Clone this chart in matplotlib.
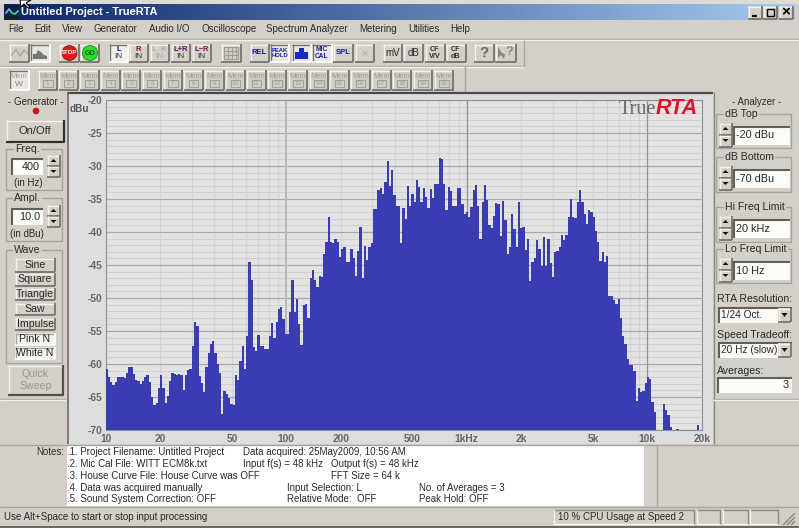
import numpy as np
import matplotlib
matplotlib.use("Agg")
import matplotlib.pyplot as plt
from matplotlib.patches import Rectangle, Polygon, Circle
from matplotlib.ticker import NullFormatter

plt.rcParams['font.family'] = ['Liberation Sans', 'DejaVu Sans']
plt.rcParams['axes.unicode_minus'] = False

# ---------- data (dBu per 1/24-octave band) ----------
low_band_db = [-60.7,-62,-62.7,-63.2,-62.7,-62,-62,-62,-62.1,-61.4,-60.5,-60.5,-61.5,-62.4,-62.6,-63,-62.5,-62,-61.7,-62.7,
 -65,-66.2,-65.9,-63.7,-61.6,-63.7,-65.9,-64.8,-62.6,-61.4,-61.5,-61.6,-61.5,-61.6,-64,-61.7,-60.9,-60.8,-57.3,-53.6,
 -54.2,-61.8,-62.9,-64.2,-60.5,-58.4,-56.9,-56.5,-58.4,-60,-61.3,-67.6,-64.1,-64.5,-65.2,-66,-66.2,-61.6,-62.4,-59.5,
 -57.3,-60.7,-55.7,-44.5,-47.2,-57.4,-58.1,-55.6,-57.3,-57.2,-57.7,-57.7,-55.8,-53.8,-56.1,-53.7,-51.7,-51.3,-53.2,-55.5,
 -55.5,-52.1,-47.3,-52.1,-50.2,-53.9,-57.1,-51,-50.9,-53,-46.9,-45.7,-47.2,-48.4,-46.7,-46.8,-43.3,-41.5,-37.7,-41.5,
 -41.6,-41,-41.5,-43.8,-42.5,-42.2,-44.6,-44.6,-42.6,-44,-46.6,-42.9,-39.2,-46.9,-42.1,-44.2,-42.3,-41.6,-36.5,-36.5,
 -33.6,-33.4,-34.2,-32.4,-29.2,-33,-30.6,-34.4,-36,-36]
high_band_db = [-41.6,-36.3,-38,-33,-36,-34.2,-35.4,-32.1,-33.2,-35.4,-33.3,-34.7,-36.4,-33.5,-34.9,-32.8,-32.7,-28.8,-28.9,-32.7,
 -36.6,-33.2,-33.8,-36,-36,-33.3,-33.3,-35.8,-37.3,-36.9,-37.7,-36.2,-33.7,-32.9,-36,-41.1,-35.4,-32.9,-35.2,-39,
 -39.4,-37.6,-35.6,-35.7,-40.6,-35.3,-38.2,-43.4,-42.2,-37.2,-39.6,-42.2,-35.5,-39.4,-39.2,-42.8,-41,-47.4,-44.6,-44,
 -41.2,-42.5,-45.1,-40.8,-45.1,-41,-44.7,-46.8,-43,-42.9,-42.2,-40.4,-41.2,-40.4,-37.7,-35,-37.7,-37.9,-35.4,-33.6,
 -35.5,-37.3,-38.8,-36.6,-37,-37.7,-39.9,-41.5,-44.4,-43,-44.5,-43.6,-49.7,-49.7,-50.3,-50.9,-50.2,-53,-55.8,-57,
 -59.2,-60.2,-60.2,-61,-65.6,-63.7,-64.2,-64.1,-62.9,-62,-62.3,-65.7,-67.2,-70,-70,-70,-66.1,-67,-67.7,-69.6,
 -70,-70,-69.9,-70,-70,-70,-70,-70,-70,-70,-70,-69.3,-70]
tick_freqs = [10,20,50,100,200,500,1000,2000,5000,10000,20000]
tick_names = ['10','20','50','100','200','500','1kHz','2k','5k','10k','20k']
db_ticks = [-20,-25,-30,-35,-40,-45,-50,-55,-60,-65,-70]
menu_names = ['File','Edit','View','Generator','Audio I/O','Oscilloscope','Spectrum Analyzer','Metering','Utilities','Help']
wave_names = ['Sine','Square','Triangle','Saw','Impulse','Pink N','White N']

W, H = 799, 528
fig = plt.figure(figsize=(W/100, H/100), dpi=100, facecolor='#d4d0c8')
ui = fig.add_axes([0, 0, 1, 1], zorder=0)
ui.set_xlim(0, W); ui.set_ylim(H, 0); ui.axis('off')

FACE = '#d4d0c8'
FS = 7.0
DARK = '#76746d'

def rect(x0, y0, x1, y1, fc=FACE, ec='none', lw=0, z=1):
    ui.add_patch(Rectangle((x0, y0), x1-x0, y1-y0, facecolor=fc, edgecolor=ec, linewidth=lw, zorder=z))

def line(xs, ys, c='#808080', lw=1, z=2):
    ui.plot(xs, ys, color=c, lw=lw, zorder=z, solid_capstyle='butt')

def txt(x, y, s, ha='left', c='#2a2a2a', fs=FS, z=5, **kw):
    ui.text(x, y, s, ha=ha, va='center', color=c, fontsize=fs, zorder=z, **kw)

def button(x0, y0, x1, y1, fc=FACE, pressed=False, z=2, dark=DARK):
    rect(x0, y0, x1, y1, fc=fc, z=z)
    a, b = (dark, '#ffffff') if pressed else ('#f4f3ef', dark)
    line([x0, x1], [y0+.5, y0+.5], a, z=z+.1); line([x0+.5, x0+.5], [y0, y1], a, z=z+.1)
    line([x0, x1], [y1-.5, y1-.5], b, 1.3, z=z+.1); line([x1-.5, x1-.5], [y0, y1], b, 1.3, z=z+.1)

def group(x0, y0, x1, y1, label=None, lx=None):
    line([x0, x1, x1, x0, x0], [y0, y0, y1, y1, y0], '#a6a49c', 1)
    if label:
        ui.text(lx, y0, label, ha='left', va='center', fontsize=FS+.6, color='#2a2a2a', zorder=5,
                bbox=dict(fc=FACE, ec='none', pad=1))

def edit(x0, y0, x1, y1, s, ha='left', fs=FS+.8):
    rect(x0, y0, x1, y1, fc='#fbfbf8', z=2)
    line([x0, x1], [y0+.7, y0+.7], '#606058', 1.5); line([x0+.7, x0+.7], [y0, y1], '#606058', 1.5)
    if ha == 'left':
        txt(x0+3, (y0+y1)/2, s, fs=fs)
    else:
        txt(x1-3, (y0+y1)/2, s, ha='right', fs=fs)

def spinner(x0, y0, x1, y1):
    m = (y0+y1)/2
    button(x0, y0, x1, m); button(x0, m, x1, y1)
    c = (x0+x1)/2
    ui.add_patch(Polygon([[c-3, y0+7], [c+3, y0+7], [c, y0+4]], fc='#111111', zorder=4))
    ui.add_patch(Polygon([[c-3, m+4], [c+3, m+4], [c, m+7]], fc='#111111', zorder=4))

# ---------- window frame ----------
rect(0, 0, W, 4, fc='#dedbd3')
grad = np.linspace(0, 1, 256)[None, :, None]
c0, c1 = np.array([10, 36, 106])/255, np.array([166, 202, 240])/255
ui.imshow(c0 + (c1-c0)*grad, extent=(4, 795, 20, 4), aspect='auto', zorder=1)
ui.set_xlim(0, W); ui.set_ylim(H, 0)
rect(5, 5, 19, 19, fc='#102030', z=2)
ui.plot([6, 9, 12, 15, 18], [13, 9, 13, 14, 11], color='#40d0d0', lw=1.2, zorder=3)
ui.add_patch(Polygon([[20, 0], [31, 0], [26, 3], [30, 7], [28, 8], [24, 4], [21, 7]], fc='white', ec='black', lw=.8, zorder=8))
txt(21, 12, 'Untitled Project - TrueRTA', c='white', fs=7.9, fontweight='bold')
button(748, 6, 762, 19); button(763, 6, 777, 19); button(779, 6, 793, 19)
line([752, 757], [15.5, 15.5], 'black', 1.6, z=4)
ui.add_patch(Rectangle((767, 9), 7, 7, fc='none', ec='black', lw=1, zorder=4))
txt(786, 12.5, '\u00d7', ha='center', c='black', fs=11, fontweight='bold')

# ---------- menu ----------
for mx, name in zip([8, 34, 62, 93, 149, 202, 266, 359, 408, 450], menu_names):
    txt(mx, 29, name, fs=FS)
line([0, W], [38.5, 38.5], '#a8a59c'); line([0, W], [39.5, 39.5], '#f2f1ec')

# ---------- toolbars ----------
line([0, 523], [65.5, 65.5], '#a8a59c'); line([0, 523], [66.5, 66.5], '#f2f1ec')
line([523.5, 523.5], [40, 66], '#a8a59c'); line([464.5, 464.5], [66, 92], '#a8a59c')
button(9, 44, 29, 62); button(30, 44, 50, 62, fc='#e6e4de', pressed=True)
ui.plot([12, 16, 20, 24, 27], [55, 49, 56, 50, 53], color='#a8a69e', lw=1, zorder=4)
ui.add_patch(Polygon([[33, 59], [33, 54], [36, 54], [38, 50], [41, 52], [44, 55], [47, 56], [47, 59]], fc='#777777', zorder=4))
button(59, 44, 79, 62); button(80, 44, 99, 62)
ui.add_patch(Circle((69.5, 53), 7.5, fc='#e01818', ec='#801010', lw=.5, zorder=4))
txt(69.5, 53, 'STOP', ha='center', c='white', fs=4.4, fontweight='bold')
ui.add_patch(Circle((90, 53), 7.5, fc='#22e02a', ec='#108010', lw=.5, zorder=4))
txt(90, 53.5, 'GO', ha='center', c='#105010', fs=5, fontweight='bold')
for x0, top, col, fc, pr in [(109, 'L', '#101080', '#f0efea', True), (129, 'R', '#901010', FACE, False), (150, 'L  R', '#b0aea8', FACE, False),
                             (171, 'L+R', '#501070', FACE, False), (192, 'L\u2212R', '#801050', FACE, False)]:
    button(x0, 44, x0+19, 62, fc=fc, pressed=pr)
    txt(x0+9.5, 49.5, top, ha='center', c=col, fs=5.4, fontweight='bold')
    txt(x0+9.5, 57, 'IN', ha='center', c='#a8a69e' if col == '#b0aea8' else '#333333', fs=6)
button(221, 44, 241, 62)
for gx in [224, 228, 232, 236, 238]:
    line([gx, gx], [47, 59], '#a09e96', .8, z=4)
for gy in [47, 51, 55, 59]:
    line([224, 238], [gy, gy], '#a09e96', .8, z=4)
for x0, x1, s, fs, fc, pr in [(250, 269, 'REL', 5.6, FACE, False), (270, 289, 'PEAK\nHOLD', 4.2, '#e8e7e2', True),
                          (312, 332, 'MIC\nCAL', 4.8, '#e8e7e2', True), (333, 353, 'SPL', 5.6, FACE, False)]:
    button(x0, 44, x1, 62, fc=fc, pressed=pr)
    ui.text((x0+x1)/2, 53, s, ha='center', va='center', color='#1a1aa8', fontsize=fs, fontweight='bold', zorder=5, linespacing=1.0)
button(292, 44, 311, 62, fc='#e8e7e2', pressed=True)
ui.add_patch(Polygon([[295, 59], [295, 52], [299, 52], [299, 48], [304, 48], [304, 52], [308, 52], [308, 59]], fc='#1a2ac0', zorder=4))
button(355, 44, 374, 62)
txt(364.5, 53, '\u00d7', ha='center', c='#b0aea8', fs=8)
for x0, x1, s in [(383, 402, 'mV'), (403, 423, 'dB')]:
    button(x0, 44, x1, 62); txt((x0+x1)/2, 53, s, ha='center', fs=7)
for x0, s in [(425, 'CF\nV/V'), (446, 'CF\ndB')]:
    button(x0, 44, x0+20, 62)
    ui.text(x0+10, 53, s, ha='center', va='center', fontsize=5.2, color='#333333', zorder=5, linespacing=.95, fontweight='bold')
button(474, 44, 494, 62); button(495, 44, 516, 62)
txt(484, 53, '?', ha='center', c='#706e68', fs=11, fontweight='bold')
txt(509, 52, '?', ha='center', c='#8a8880', fs=9, fontweight='bold')
ui.add_patch(Polygon([[498, 47], [498, 58], [501, 55], [504, 59], [505, 54], [502, 53]], fc='#8a8880', zorder=4))

button(9, 70, 29, 90, fc='#e8e7e2', pressed=True)
txt(19, 76, 'Mem', ha='center', c='#a09e96', fs=5.4); txt(19, 84, 'W', ha='center', c='#807e76', fs=6)
for i in range(1, 21):
    x0 = 38 + 20.85*(i-1)
    button(x0, 70, x0+19.5, 90, fc='#d0cdc4')
    txt(x0+9.7, 76, 'Mem', ha='center', c='#a09e96', fs=5.4)
    ui.add_patch(Rectangle((x0+5, 80), 9.5, 7, fc='none', ec='#a09e96', lw=.7, zorder=4))
    txt(x0+9.7, 83.5, str(i), ha='center', c='#a09e96', fs=4.6)

# ---------- left generator panel ----------
txt(36, 102, '- Generator -', ha='center', fs=FS)
ui.add_patch(Circle((36, 111), 3, fc='#e01010', ec='#801010', lw=.4, zorder=4))
button(6, 120, 64, 142, pressed=False)
line([6, 64, 64], [141.5, 141.5, 120], '#303030', 1.6, z=3)
txt(35, 131, 'On/Off', ha='center', fs=FS+1)
group(6, 149, 62, 190, 'Freq.', 15)
edit(11, 158, 43, 175, '400', ha='right'); spinner(47, 155, 60, 177)
txt(28, 183, '(in Hz)', ha='center', fs=FS)
group(6, 198, 62, 241, 'Ampl.', 14)
edit(11, 208, 43, 225, '10.0', ha='right'); spinner(47, 205, 60, 227)
txt(27, 234, '(in dBu)', ha='center', fs=FS)
group(6, 250, 62, 363, 'Wave', 14)
for (y0, y1), name in zip([(258, 272), (273, 286), (288, 300), (303, 315), (318, 330), (333, 345), (347, 359)], wave_names):
    white = name in ('Pink N', 'White N')
    button(15, y0, 55, y1, fc='#f4f3ef' if white else FACE, pressed=white, dark='#a6a49c' if white else DARK)
    txt(35, (y0+y1)/2, name, ha='center', fs=FS+.6)
button(8, 365, 63, 395)
line([8, 63, 63], [394.5, 394.5, 365], '#505050', 1.6, z=3)
txt(35.5, 374, 'Quick', ha='center', c='#9a9890', fs=FS+.6); txt(35.5, 386, 'Sweep', ha='center', c='#9a9890', fs=FS+.6)
line([0, 66], [398.5, 398.5], '#a8a59c'); line([0, 66], [399.5, 399.5], '#f2f1ec')

# ---------- chart panel ----------
rect(67, 92, 713, 444, fc='#dddddb', z=1)
line([67, 713], [92.5, 92.5], '#4a4a4a', 1.6); line([67.5, 67.5], [92, 444], '#6a6a6a', 1.2)
line([713.5, 713.5], [92, 444], '#8a8880', 1)
txt(70, 109, 'dBu', c='#555555', fs=7.2, fontweight='bold')

# ---------- right analyzer panel ----------
txt(757, 102, '- Analyzer -', ha='center', fs=FS)
for y0, y1, label, lx, val in [(114, 148, 'dB Top', 725, '-20 dBu'), (157, 192, 'dB Bottom', 725, '-70 dBu'),
                               (207, 242, 'Hi Freq Limit', 725, '20 kHz'), (249, 283, 'Lo Freq Limit', 725, '10 Hz')]:
    group(716, y0, 791, y1, label, lx)
    spinner(719, y0+9, 732, y0+33)
    edit(733, y0+12, 790, y0+31, val)
txt(717, 299, 'RTA Resolution:', fs=FS+.6)
edit(718, 307, 792, 323, '1/24 Oct.', fs=FS+.3)
txt(717, 335, 'Speed Tradeoff:', fs=FS+.6)
edit(718, 342, 792, 358, '20 Hz (slow)', fs=FS+.3)
for y0 in (307, 342):
    button(778, y0+1, 791, y0+15)
    ui.add_patch(Polygon([[781.5, y0+6], [787.5, y0+6], [784.5, y0+10]], fc='#111111', zorder=4))
txt(717, 371, 'Averages:', fs=FS+.6)
edit(717, 377, 792, 393, '3', ha='right')
line([713, W], [398.5, 398.5], '#a8a59c'); line([713, W], [399.5, 399.5], '#f2f1ec')

# ---------- notes ----------
rect(67, 445, 644, 506, fc='white', z=2)
line([0, W], [444.5, 444.5], '#a8a59c')
line([656.5, 656.5], [445, 506], '#a8a59c'); line([0, W], [506.5, 506.5], '#a8a59c')
txt(64, 452, 'Notes:', ha='right')
note_rows = [(452, 67, '.1. Project Filename: Untitled Project'), (452, 243, 'Data acquired: 25May2009, 10:56 AM'),
             (464, 67, '.2. Mic Cal File: WITT ECM8k.txt'), (464, 243, 'Input f(s) = 48 kHz'), (464, 331, 'Output f(s) = 48 kHz'),
             (476, 67, '.3. House Curve File: House Curve was OFF'), (476, 331, 'FFT Size = 64 k'),
             (488, 67, '.4. Data was acquired manually'), (488, 287, 'Input Selection: L'), (488, 419, 'No. of Averages = 3'),
             (499, 67, '.5. Sound System Correction: OFF'), (499, 287, 'Relative Mode:  OFF'), (499, 419, 'Peak Hold: OFF')]
for y, x, s in note_rows:
    txt(x, y, s)

# ---------- status bar ----------
txt(4, 517, 'Use Alt+Space to start or stop input processing')
for x0, x1 in [(554, 694), (697, 720), (723, 748), (750, 778)]:
    line([x0, x1, x1], [510, 510, 524], '#8a8880'); line([x0, x0, x1], [510, 524, 524], '#f4f3ef')
txt(558, 517, '10 % CPU Usage at Speed 2')
for d in (4, 8, 12):
    line([795-d, 795], [525, 525-d], '#8a8880', 1)
rect(0, 525.5, W, H, fc='#6a6a66', z=3)

# ---------- spectrum plot ----------
L, R, T, B = 105.7, 701.7, 100, 430
ax = fig.add_axes([L/W, 1-B/H, (R-L)/W, (B-T)/H], zorder=2, facecolor='#e3e3e1')
db_values = np.array(low_band_db + high_band_db)
edges = 10 * 2 ** (np.arange(len(db_values)+1) / 24)
ax.bar(edges[:-1], db_values+70, width=np.diff(edges), bottom=-70, align='edge',
       color='#3c3cb2', linewidth=0, antialiased=False, zorder=3)
ax.set_xscale('log')
ax.set_xlim(10, 20000); ax.set_ylim(-70, -20)
ax.set_xticks(tick_freqs); ax.set_xticklabels(tick_names)
minor_f = [m*d for d in (10, 100, 1000, 10000) for m in range(1, 10) if m*d < 20000]
ax.set_xticks(minor_f, minor=True); ax.xaxis.set_minor_formatter(NullFormatter())
ax.set_yticks(db_ticks); ax.set_yticks(np.arange(-70, -19), minor=True)
ax.tick_params(which='both', length=0)
ax.tick_params(axis='x', pad=2.8, labelsize=7.4, labelcolor='#666666')
ax.tick_params(axis='y', pad=2.2, labelsize=7.4, labelcolor='#666666')
for lab in ax.get_xticklabels() + ax.get_yticklabels():
    lab.set_fontweight('bold')
ax.grid(which='minor', axis='y', color='#d0d0ce', lw=.7, zorder=1)
ax.grid(which='major', axis='y', color='#abaaa8', lw=.9, zorder=1)
ax.grid(which='minor', axis='x', color='#d4d4d2', lw=.8, zorder=1)
ax.grid(which='major', axis='x', color='#d4d4d2', lw=.8, zorder=1)
for f, c, w in [(100, '#b8b8b6', 1.4), (1000, '#929290', .9), (10000, '#929290', .9)]:
    ax.axvline(f, color=c, lw=w, zorder=2)
ax.set_axisbelow(True)
for side, sp in ax.spines.items():
    sp.set_color('#929290'); sp.set_linewidth(.8)
fig.text(656/W, 1-109/H, 'RTA', color='#e0122c', fontsize=15.5, fontweight='bold', fontstyle='italic',
         va='center', ha='left', zorder=10)
fig.text(619/W, 1-109/H, 'True', color='#6a6a68', fontsize=14.5, family='Liberation Serif',
         va='center', ha='left', zorder=10)

fig.savefig('out.png', dpi=100)
